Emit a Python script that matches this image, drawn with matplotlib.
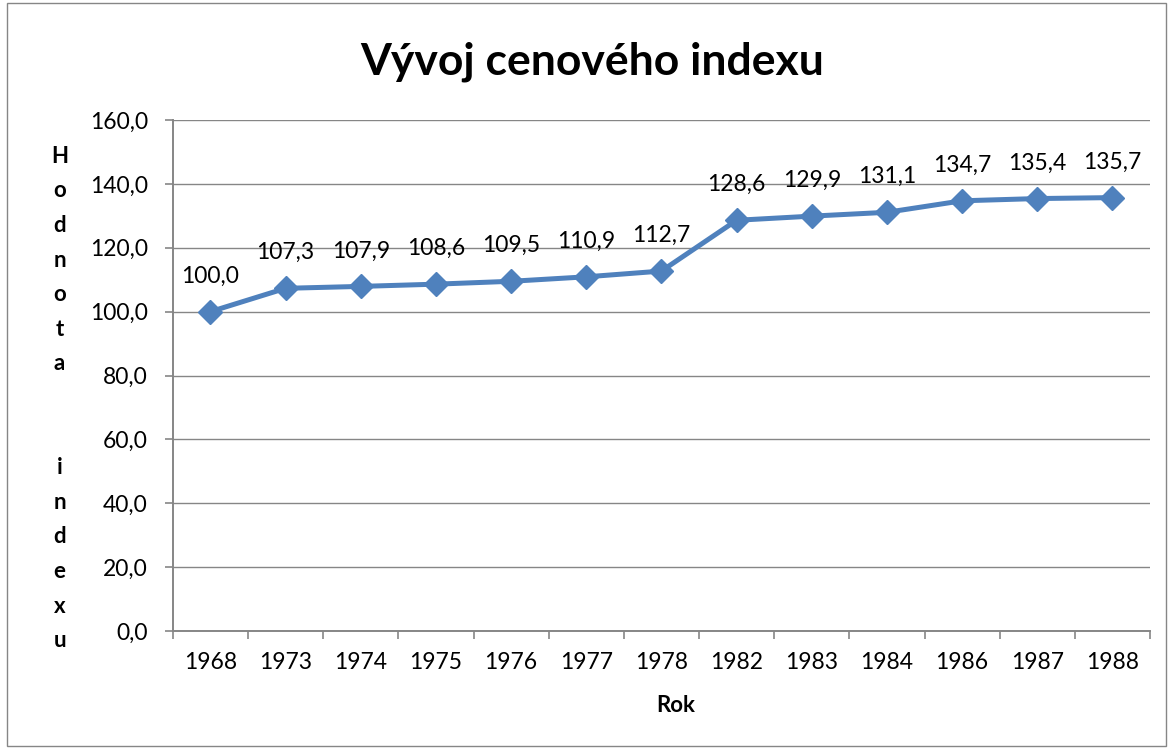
import numpy as np
import matplotlib.pyplot as plt
from matplotlib.patches import Rectangle

# data
roky = ['1968', '1973', '1974', '1975', '1976', '1977', '1978',
        '1982', '1983', '1984', '1986', '1987', '1988']
index = [100.0, 107.3, 107.9, 108.6, 109.5, 110.9, 112.7,
         128.6, 129.9, 131.1, 134.7, 135.4, 135.7]

plt.rcParams['font.family'] = ['Lato', 'DejaVu Sans']
modra = '#4F81BD'
seda = '#868686'

fig = plt.figure(figsize=(11.68, 7.49), dpi=100)
ax = fig.add_axes([0.148, 0.1575, 0.8366, 0.6823])

x = np.arange(len(roky))
ax.plot(x, index, color=modra, lw=3.6, marker='D', markersize=12,
        markerfacecolor=modra, markeredgecolor=modra, zorder=3)
for xi, v in zip(x, index):
    ax.annotate(f'{v:.1f}'.replace('.', ','), (xi, v), xytext=(0, 18),
                textcoords='offset points', ha='center', va='bottom', fontsize=16.5)

ax.set_xlim(-0.5, len(roky) - 0.5)
ax.set_ylim(0, 160)
ax.set_yticks(np.arange(0, 161, 20))
ax.set_yticklabels([f'{t:.1f}'.replace('.', ',') for t in np.arange(0, 161, 20)], fontsize=16.5)
ax.set_xticks(x)
ax.set_xticklabels(roky, fontsize=16.5)
ax.set_xticks(np.arange(-0.5, len(roky), 1), minor=True)
ax.tick_params(axis='x', which='major', length=0, pad=15)
ax.tick_params(axis='x', which='minor', length=6, width=1.2, color=seda)
ax.tick_params(axis='y', length=6, width=1.2, color=seda, pad=12)
ax.grid(axis='y', color=seda, lw=1)
ax.set_axisbelow(True)
for s in ['top', 'right']:
    ax.spines[s].set_visible(False)
for s in ['left', 'bottom']:
    ax.spines[s].set_color(seda)
    ax.spines[s].set_linewidth(1.4)

fig.text(0.507, 0.918, 'Vývoj cenového indexu', ha='center', va='center',
         fontsize=32, fontweight='bold')
fig.text(0.5785, 0.058, 'Rok', ha='center', va='center', fontsize=16, fontweight='bold')
fig.text(0.051, 0.468, '\n'.join('Hodnota  indexu'), ha='center', va='center',
         fontsize=16, fontweight='bold', linespacing=1.8)

fig.patches.append(Rectangle((0.006, 0.004), 0.992, 0.992, transform=fig.transFigure,
                             fill=False, edgecolor=seda, lw=1))

fig.savefig('out.png', dpi=100)
